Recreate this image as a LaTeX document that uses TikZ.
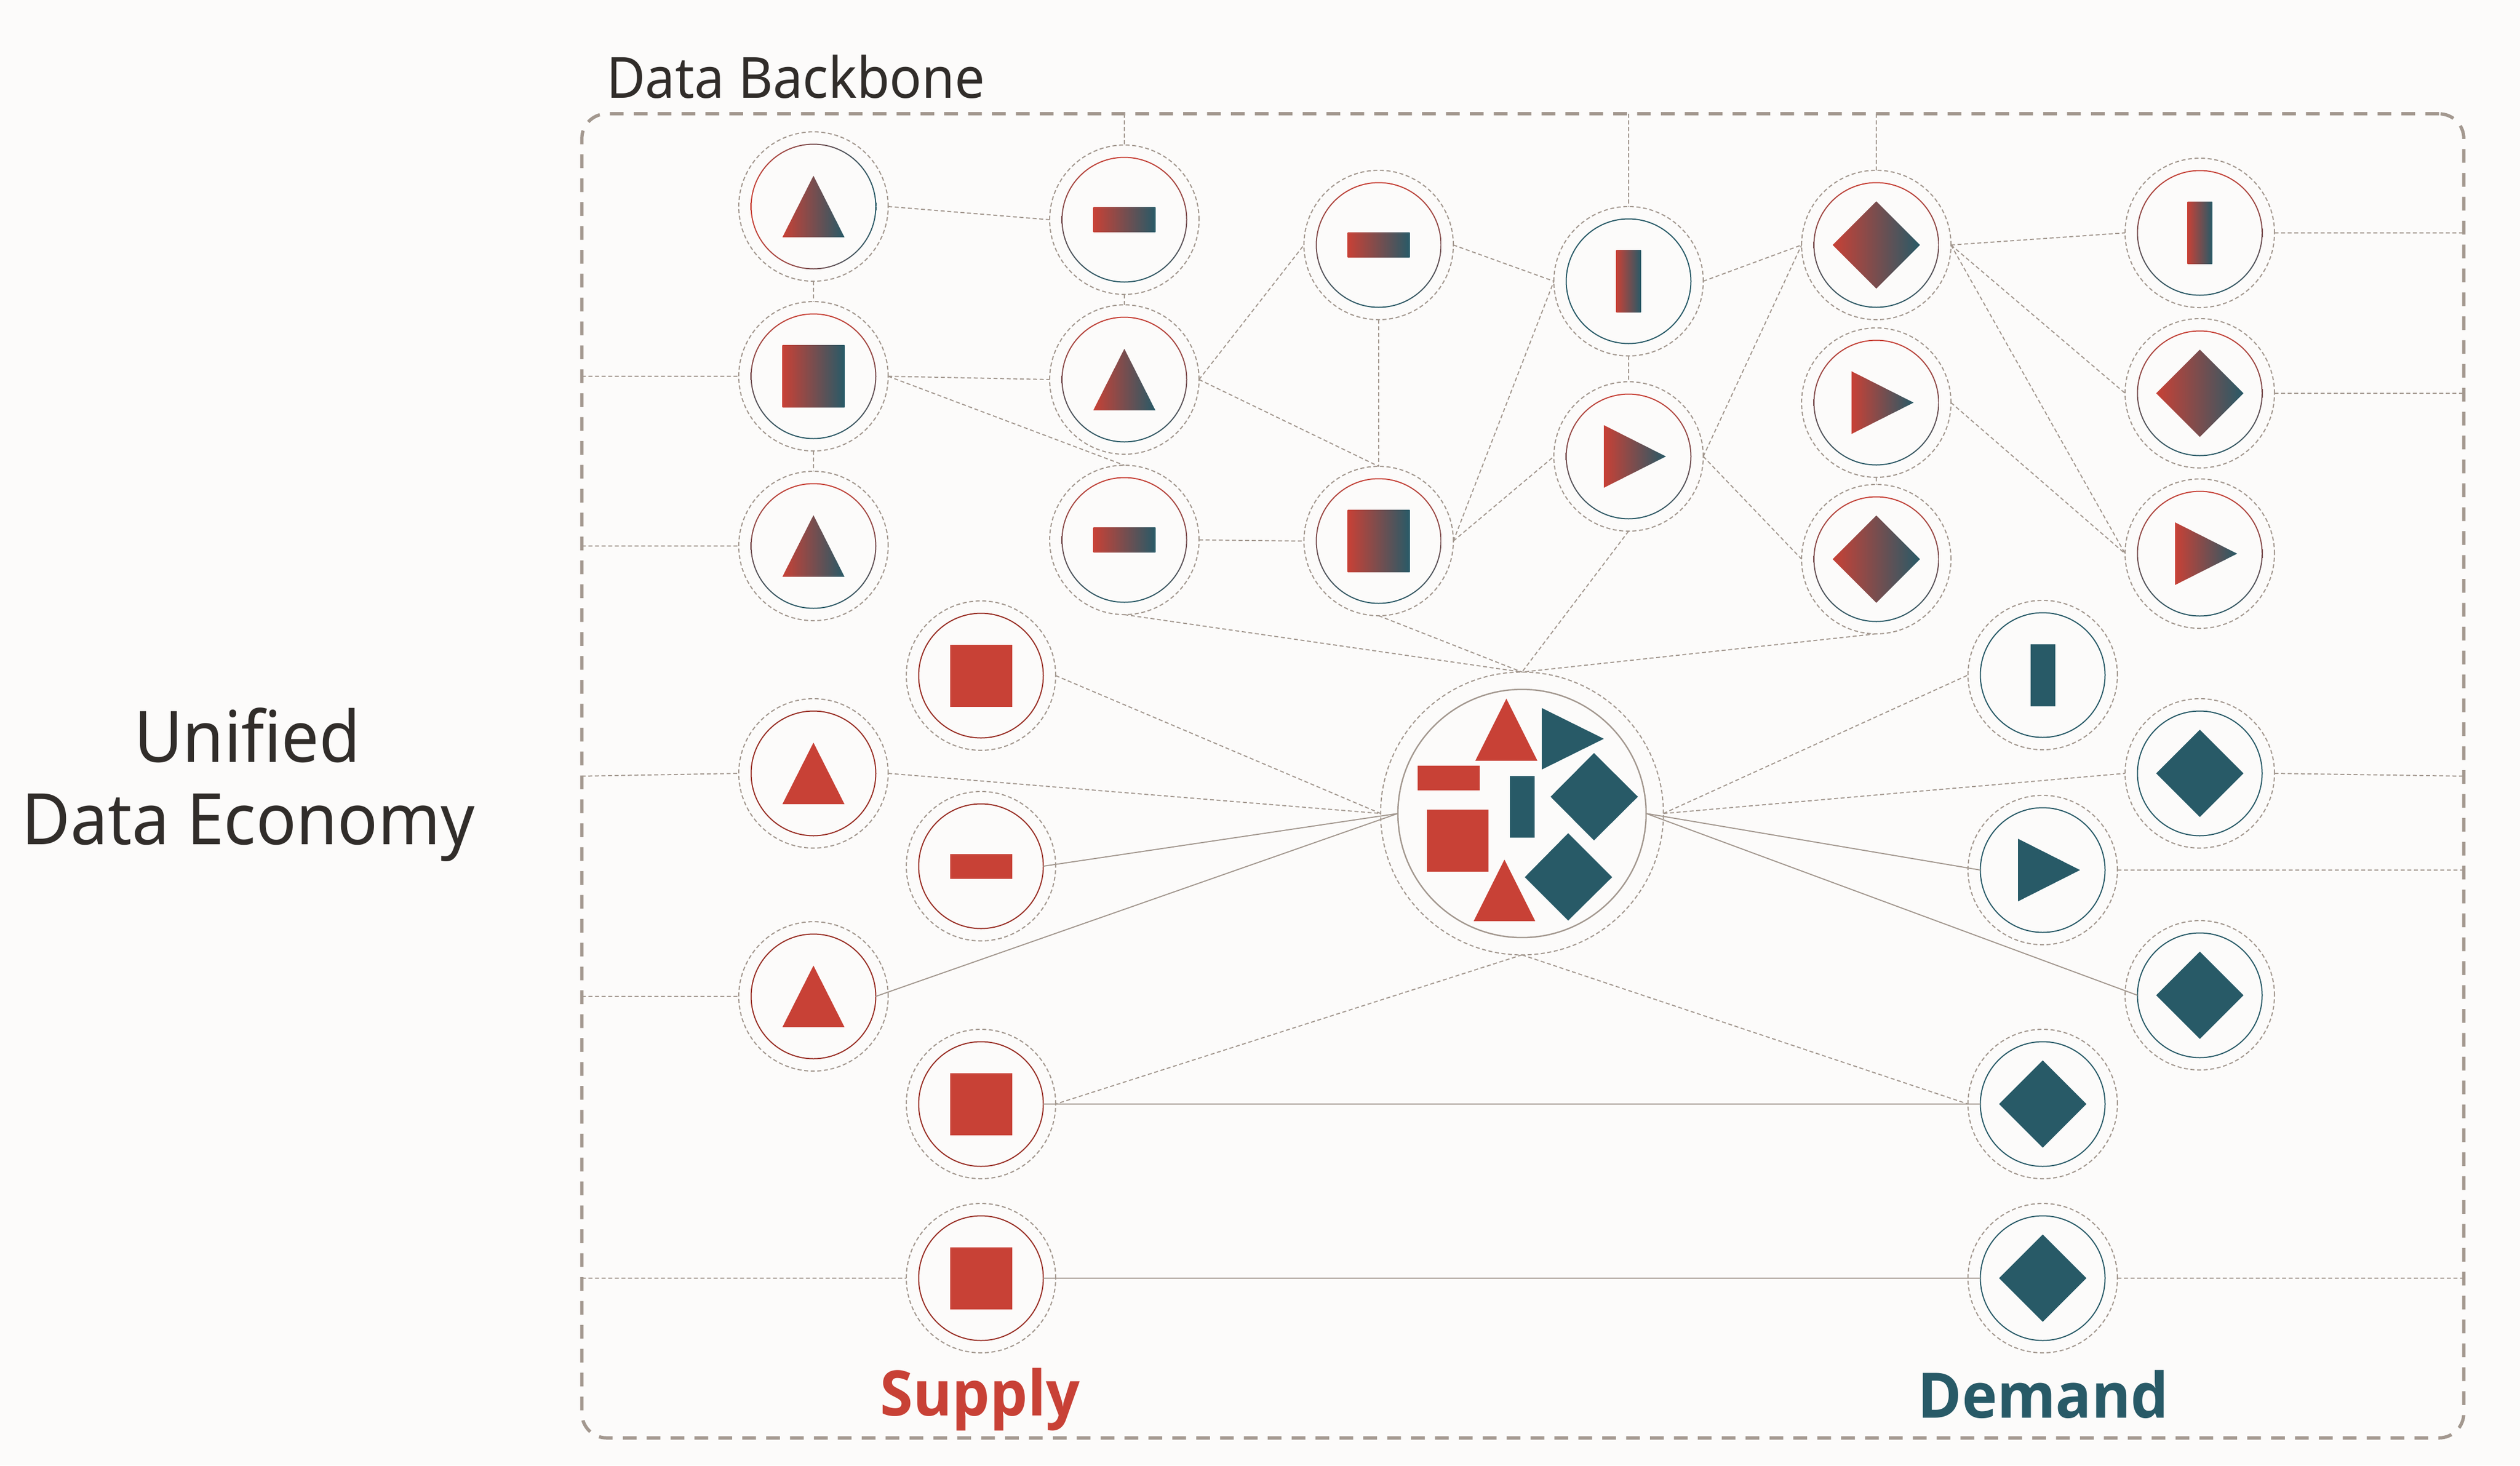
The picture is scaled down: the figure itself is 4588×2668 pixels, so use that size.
\documentclass[tikz,border=0pt]{standalone}
\usepackage{fontspec}
\setmainfont{Noto Sans}[FakeStretch=0.94]
\newfontfamily\strongf{Open Sans}[FakeStretch=0.95]
\definecolor{bgc}{HTML}{FCFBFA}
\definecolor{redc}{HTML}{C84136}
\definecolor{redd}{HTML}{982E24}
\definecolor{tealc}{HTML}{285A67}
\definecolor{lnc}{HTML}{A3988F}
\definecolor{txtc}{HTML}{312D2A}
\tikzset{
  hub/.style={circle,inner sep=0pt,outer sep=0pt,draw=lnc,line width=0.042cm,dash pattern=on 0.146cm off 0.094cm,minimum size=5.44cm},
  core/.style={circle,inner sep=0pt,outer sep=0pt,minimum size=4.54cm},
  dl/.style={draw=lnc,line width=0.04cm,dash pattern=on 0.146cm off 0.094cm},
  sl/.style={draw=lnc,line width=0.04cm},
  grad/.style={left color=redc,right color=tealc},
  solr/.style={fill=redc},
  solt/.style={fill=tealc},
  ringv/.style={top color=redc,bottom color=tealc},
  ringh/.style={left color=redc,right color=tealc},
  ringr/.style={fill=redd},
  ringt/.style={fill=tealc},
  lab/.style={inner sep=0pt,outer sep=0pt,anchor=base},
}
\newcommand{\shSq}{(-56.5,-56.5) rectangle (56.5,56.5)}
\newcommand{\shMi}{(-56.5,-22.5) rectangle (56.5,22.5)}
\newcommand{\shBa}{(-22.5,-56.5) rectangle (22.5,56.5)}
\newcommand{\shTr}{(0,-56) -- (-56.5,56) -- (56.5,56) -- cycle}
\newcommand{\shPl}{(-45,-57) -- (68,0) -- (-45,57) -- cycle}
\newcommand{\shDi}{(-79.5,0) -- (0,-79.5) -- (79.5,0) -- (0,79.5) -- cycle}
% name, x, y, shape, fill style, ring style
\newcommand{\ndx}[6]{%
  \node[hub] (#1) at (#2,#3) {};
  \node[core] (#1i) at (#2,#3) {};
  \path[even odd rule,#6] (#2,#3) circle (114.5) (#2,#3) circle (112.5);
  \begin{scope}[shift={(#2,#3)}]\path[#5] #4;\end{scope}
}
\begin{document}
\begin{tikzpicture}[x=0.02cm,y=-0.02cm]
\useasboundingbox (0,0) rectangle (4588,2668);
\fill[bgc] (0,0) rectangle (4588,2668);
% backbone frame
\node[draw=lnc,line width=0.12cm,dash pattern=on 0.5cm off 0.37cm,rounded corners=0.9cm,inner sep=0pt,outer sep=0pt,minimum width=68.54cm,minimum height=48.22cm] (box) at (2772.5,1412.5) {};
% labels
\node[lab,anchor=base west,text=txtc,font=\fontsize{58.8}{70}\selectfont] (bbt) at (1104,178) {Data Backbone};
\node[lab,text=txtc,font=\fontsize{73.6}{85}\selectfont] (ue1) at (450,1387) {Unified};
\node[lab,text=txtc,font=\fontsize{73.6}{85}\selectfont] (ue2) at (452,1537) {Data Economy};
\node[lab,text=redc,font=\strongf\bfseries\fontsize{65}{75}\selectfont] (sup) at (1784.5,2577) {Supply};
\node[lab,text=tealc,font=\strongf\bfseries\fontsize{65}{75}\selectfont] (dem) at (3720,2581) {Demand};
% mixed nodes
\ndx{A1}{1481}{376}{\shTr}{grad}{ringh}
\ndx{A2}{1481}{685}{\shSq}{grad}{ringv}
\ndx{A3}{1481}{994}{\shTr}{grad}{ringv}
\ndx{B1}{2047}{400}{\shMi}{grad}{ringv}
\ndx{B2}{2047}{691}{\shTr}{grad}{ringv}
\ndx{B3}{2047}{983}{\shMi}{grad}{ringv}
\ndx{C1}{2510}{446}{\shMi}{grad}{ringv}
\ndx{C2}{2510}{985}{\shSq}{grad}{ringv}
\ndx{D1}{2965}{512}{\shBa}{grad}{ringt}
\ndx{D2}{2965}{831}{\shPl}{grad}{ringv}
\ndx{E1}{3416}{446}{\shDi}{grad}{ringv}
\ndx{E2}{3416}{733}{\shPl}{grad}{ringv}
\ndx{E3}{3416}{1018}{\shDi}{grad}{ringv}
\ndx{F1}{4005}{424}{\shBa}{grad}{ringv}
\ndx{F2}{4005}{716}{\shDi}{grad}{ringv}
\ndx{F3}{4005}{1008}{\shPl}{grad}{ringv}
% supply nodes
\ndx{S1}{1786}{1230}{\shSq}{solr}{ringr}
\ndx{S2}{1481}{1408}{\shTr}{solr}{ringr}
\ndx{S3}{1786}{1577}{\shMi}{solr}{ringr}
\ndx{S4}{1481}{1814}{\shTr}{solr}{ringr}
\ndx{S5}{1786}{2010}{\shSq}{solr}{ringr}
\ndx{S6}{1786}{2327}{\shSq}{solr}{ringr}
% demand nodes
\ndx{T1}{3719}{1229}{\shBa}{solt}{ringt}
\ndx{T2}{4005}{1408}{\shDi}{solt}{ringt}
\ndx{T3}{3719}{1584}{\shPl}{solt}{ringt}
\ndx{T4}{4005}{1812}{\shDi}{solt}{ringt}
\ndx{T5}{3719}{2010}{\shDi}{solt}{ringt}
\ndx{T6}{3719}{2327}{\shDi}{solt}{ringt}
% central exchange
\node[circle,inner sep=0pt,outer sep=0pt,draw=lnc,line width=0.042cm,dash pattern=on 0.146cm off 0.094cm,minimum size=10.3cm] (M) at (2771,1481) {};
\node[circle,inner sep=0pt,outer sep=0pt,draw=lnc,line width=0.05cm,minimum size=9.04cm] (Mi) at (2771,1481) {};
\fill[redc] (2742.5,1272) -- (2686,1385) -- (2799,1385) -- cycle;
\fill[tealc] (2807,1289) -- (2920,1345) -- (2807,1401) -- cycle;
\fill[redc] (2581,1394) rectangle (2694,1439);
\fill[tealc] (2749,1413) rectangle (2794,1525);
\fill[tealc] (2823,1450.5) -- (2902,1371) -- (2982,1450.5) -- (2902,1530) -- cycle;
\fill[tealc] (2776,1597) -- (2855,1517) -- (2935,1597) -- (2855,1676) -- cycle;
\fill[redc] (2598,1474) rectangle (2710,1587);
\fill[redc] (2739,1565) -- (2683,1677) -- (2795,1677) -- cycle;
% free ends on the frame
\coordinate (s2l) at (1059,1413);
\coordinate (t2r) at (4485,1413);
% dashed connectors
\path[dl]
  (A2.west -| box.west) -- (A2.west)
  (A3.west -| box.west) -- (A3.west)
  (s2l) -- (S2.west)
  (S4.west -| box.west) -- (S4.west)
  (S6.west -| box.west) -- (S6.west)
  (B1.north |- box.north) -- (B1.north)
  (D1.north |- box.north) -- (D1.north)
  (E1.north |- box.north) -- (E1.north)
  (F1.east) -- (F1.east -| box.east)
  (F2.east) -- (F2.east -| box.east)
  (T2.east) -- (t2r)
  (T3.east) -- (T3.east -| box.east)
  (T6.east) -- (T6.east -| box.east)
  (A1.south) -- (A2.north)
  (A2.south) -- (A3.north)
  (A1.east) -- (B1.west)
  (A2.east) -- (B2.west)
  (A2.east) -- (B3.north)
  (B1.south) -- (B2.north)
  (B2.east) -- (C1.west)
  (B2.east) -- (C2.north)
  (B3.east) -- (C2.west)
  (C1.east) -- (D1.west)
  (C1.south) -- (C2.north)
  (C2.east) -- (D1.west)
  (C2.east) -- (D2.west)
  (D1.east) -- (E1.west)
  (D1.south) -- (D2.north)
  (D2.east) -- (E1.west)
  (D2.east) -- (E3.west)
  (E2.south) -- (E3.north)
  (E1.east) -- (F1.west)
  (E1.east) -- (F2.west)
  (E1.east) -- (F3.west)
  (E2.east) -- (F3.west)
  (B3.south) -- (M.north)
  (C2.south) -- (M.north)
  (D2.south) -- (M.north)
  (E3.south) -- (M.north)
  (S1.east) -- (M.west)
  (S2.east) -- (M.west)
  (M.east) -- (T1.west)
  (M.east) -- (T2.west)
  (M.south) -- (S5.east)
  (M.south) -- (T5.west);
% solid connectors
\path[sl]
  (S3i.east) -- (Mi.west)
  (S4i.east) -- (Mi.west)
  (Mi.east) -- (T3i.west)
  (Mi.east) -- (T4i.west)
  (S5i.east) -- (T5i.west)
  (S6i.east) -- (T6i.west);
\end{tikzpicture}
\end{document}
